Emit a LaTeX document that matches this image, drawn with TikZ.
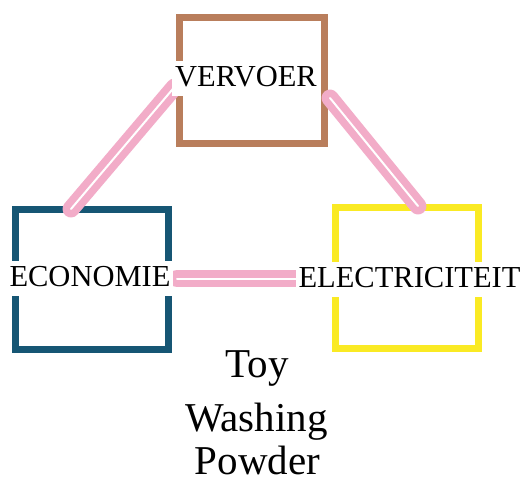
\documentclass[tikz,border=0pt]{standalone}
\usepackage{fontspec}
\setmainfont{Liberation Serif}
\definecolor{pinkline}{RGB}{242,172,200}
\definecolor{boxbrown}{RGB}{185,126,92}
\definecolor{boxteal}{RGB}{22,86,116}
\definecolor{boxyellow}{RGB}{250,234,36}
\begin{document}
\begin{tikzpicture}[x=1pt,y=-1pt,
  frame/.style={draw=#1,line width=7pt},
  lbl/.style={fill=white,inner sep=3pt,text height=22pt,text depth=7pt,anchor=base,font=\fontsize{30.5}{32}\selectfont},
  link/.style={draw=pinkline,line width=7.5pt,double=white,double distance=2pt,line cap=round},
  title/.style={anchor=base,font=\fontsize{41}{44}\selectfont,inner sep=0pt}]
\useasboundingbox[fill=white] (0,0) rectangle (525,482);
% boxes
\draw[frame=boxbrown] (179.5,17.5) rectangle (324.5,143.5);
\draw[frame=boxteal] (15.5,209.5) rectangle (168.5,349.5);
\draw[frame=boxyellow] (335.5,207.5) rectangle (478.5,348.5);
% connector end points
\coordinate (vl) at (174.5,87);
\coordinate (et) at (71,209);
\coordinate (vr) at (330,98);
\coordinate (lt) at (418,206);
\coordinate (er) at (177,278.5);
\coordinate (ll) at (299,278.5);
\draw[link] (vl) -- (et);
\draw[link] (vr) -- (lt);
\draw[link] (er) -- (ll);
% labels
\node[lbl] (vervoer) at (246,86) {VERVOER};
\node[lbl] (economie) at (90,286) {ECONOMIE};
\node[lbl] (electriciteit) at (409.5,287) {ELECTRICITEIT};
\node[title] (toy) at (257,377) {Toy};
\node[title] (washing) at (256.5,431) {Washing};
\node[title] (powder) at (257.5,474) {Powder};
\end{tikzpicture}
\end{document}
